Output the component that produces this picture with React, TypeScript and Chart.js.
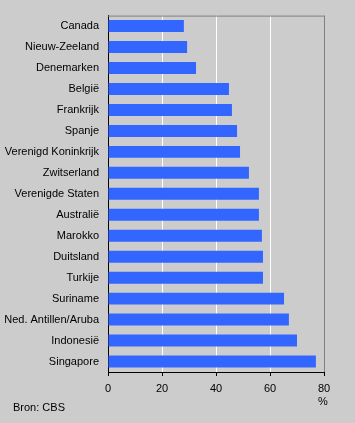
import React, { useEffect, useRef } from "react";
import { Chart, registerables } from "chart.js";

Chart.register(...registerables);

const categories = [
  "Canada",
  "Nieuw-Zeeland",
  "Denemarken",
  "België",
  "Frankrijk",
  "Spanje",
  "Verenigd Koninkrijk",
  "Zwitserland",
  "Verenigde Staten",
  "Australië",
  "Marokko",
  "Duitsland",
  "Turkije",
  "Suriname",
  "Ned. Antillen/Aruba",
  "Indonesië",
  "Singapore",
];
const values = [28.1, 29.3, 32.6, 44.8, 45.9, 47.8, 48.9, 52.2, 55.9, 55.9, 57.0, 57.4, 57.4, 65.2, 67.0, 70.0, 77.0];
const xTicks = [0, 20, 40, 60, 80];
const unitLabel = "%";
const sourceLabel = "Bron: CBS";

const FONT = "'Liberation Sans', Arial, sans-serif";

export default function App() {
  const ref = useRef<HTMLCanvasElement>(null);
  useEffect(() => {
    document.body.style.margin = "0";
    document.body.style.background = "#cccccc";
    const canvas = ref.current!;
    const bgPlugin = {
      id: "bg",
      beforeDraw(chart: any) {
        const c = chart.ctx;
        c.save();
        c.fillStyle = "#cccccc";
        c.fillRect(0, 0, chart.width, chart.height);
        c.restore();
      },
      afterDraw(chart: any) {
        const c = chart.ctx;
        const a = chart.chartArea;
        c.save();
        c.strokeStyle = "#808080";
        c.lineWidth = 1;
        c.beginPath();
        c.moveTo(a.left, a.top + 0.5);
        c.lineTo(a.right + 0.5, a.top + 0.5);
        c.stroke();
        c.fillStyle = "#000";
        c.font = `11px ${FONT}`;
        c.textBaseline = "middle";
        c.textAlign = "center";
        const xs = chart.scales.x;
        c.fillText(unitLabel, xs.getPixelForValue(80) - 1, 402);
        c.textAlign = "left";
        c.fillText(sourceLabel, 13, 408);
        c.restore();
      },
    };
    const chart = new Chart(canvas, {
      type: "bar",
      data: {
        labels: categories,
        datasets: [
          {
            data: values,
            backgroundColor: "#3366ff",
            borderWidth: 0,
            barPercentage: 12 / 21,
            categoryPercentage: 1,
          },
        ],
      },
      options: {
        indexAxis: "y",
        responsive: false,
        animation: false,
        layout: { padding: { top: 14, right: 31, left: 0, bottom: 0 } },
        plugins: { legend: { display: false }, tooltip: { enabled: false } },
        scales: {
          x: {
            min: 0,
            max: 80,
            afterBuildTicks(scale: any) {
              scale.ticks = xTicks.map((v) => ({ value: v }));
            },
            afterFit(scale: any) {
              scale.height = 51;
            },
            grid: {
              color: (ctx: any) =>
                ctx.tick && ctx.tick.value === 80 ? "#808080" : ctx.tick && ctx.tick.value === 0 ? "rgba(0,0,0,0)" : "#ffffff",
              lineWidth: 1,
              tickLength: 4,
              tickColor: "#000000",
            },
            border: { display: true, color: "#000000", width: 1 },
            ticks: {
              color: "#000",
              font: { family: FONT, size: 11 },
              padding: 6,
              maxRotation: 0,
            },
          },
          y: {
            afterFit(scale: any) {
              scale.width = 108;
            },
            grid: { display: false, drawTicks: false },
            border: { display: true, color: "#000000", width: 1 },
            ticks: {
              color: "#000",
              font: { family: FONT, size: 11 },
              padding: 9,
              autoSkip: false,
            },
          },
        },
      },
      plugins: [bgPlugin],
    });
    return () => chart.destroy();
  }, []);
  return (
    <div style={{ width: 355, height: 423, background: "#cccccc" }}>
      <canvas ref={ref} width={355} height={423} style={{ display: "block" }} />
    </div>
  );
}
